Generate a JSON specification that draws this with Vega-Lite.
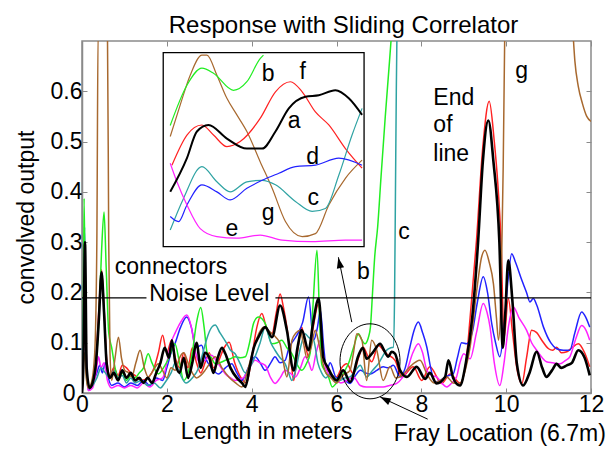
{
"$schema":"https://vega.github.io/schema/vega-lite/v6.json",
"width":509,"height":352,
"autosize":"none",
"padding":{"left":82,"top":41,"right":22,"bottom":56},
"background":"white",
"config":{"view":{"stroke":"#8a8a8a","strokeWidth":1.5},"font":"Liberation Sans"},
"title":{"text":"Response with Sliding Correlator","fontSize":24,"fontWeight":"normal","font":"Liberation Sans","color":"black","anchor":"middle","frame":"group","offset":3,"dx":7},
"resolve":{"axis":{"x":"independent","y":"independent"}},
"datasets":{
"main":[
{"s":"a","x":0,"y":0.0},{"s":"a","x":0.03,"y":0.05},{"s":"a","x":0.07,"y":0.30},{"s":"a","x":0.11,"y":0.05},{"s":"a","x":0.18,"y":0.01},{"s":"a","x":0.25,"y":0.02},{"s":"a","x":0.33,"y":0.06},{"s":"a","x":0.4,"y":0.15},{"s":"a","x":0.46,"y":0.24},{"s":"a","x":0.52,"y":0.16},{"s":"a","x":0.58,"y":0.06},{"s":"a","x":0.66,"y":0.03},{"s":"a","x":0.75,"y":0.04},{"s":"a","x":0.85,"y":0.025},{"s":"a","x":0.95,"y":0.045},{"s":"a","x":1.05,"y":0.03},{"s":"a","x":1.15,"y":0.04},{"s":"a","x":1.25,"y":0.025},{"s":"a","x":1.35,"y":0.03},{"s":"a","x":1.45,"y":0.02},{"s":"a","x":1.55,"y":0.03},{"s":"a","x":1.65,"y":0.02},{"s":"a","x":1.75,"y":0.04},{"s":"a","x":1.85,"y":0.06},{"s":"a","x":1.95,"y":0.09},{"s":"a","x":2.05,"y":0.07},{"s":"a","x":2.12,"y":0.105},{"s":"a","x":2.2,"y":0.06},{"s":"a","x":2.3,"y":0.04},{"s":"a","x":2.4,"y":0.07},{"s":"a","x":2.5,"y":0.03},{"s":"a","x":2.6,"y":0.06},{"s":"a","x":2.7,"y":0.1},{"s":"a","x":2.8,"y":0.05},{"s":"a","x":2.9,"y":0.08},{"s":"a","x":3.0,"y":0.07},{"s":"a","x":3.1,"y":0.04},{"s":"a","x":3.2,"y":0.07},{"s":"a","x":3.3,"y":0.09},{"s":"a","x":3.38,"y":0.078},{"s":"a","x":3.5,"y":0.05},{"s":"a","x":3.65,"y":0.03},{"s":"a","x":3.77,"y":0.02},{"s":"a","x":3.85,"y":0.012},{"s":"a","x":3.95,"y":0.05},{"s":"a","x":4.05,"y":0.09},{"s":"a","x":4.16,"y":0.111},{"s":"a","x":4.32,"y":0.131},{"s":"a","x":4.48,"y":0.111},{"s":"a","x":4.67,"y":0.174},{"s":"a","x":4.83,"y":0.125},{"s":"a","x":4.99,"y":0.045},{"s":"a","x":5.08,"y":0.09},{"s":"a","x":5.18,"y":0.125},{"s":"a","x":5.34,"y":0.085},{"s":"a","x":5.45,"y":0.14},{"s":"a","x":5.58,"y":0.188},{"s":"a","x":5.69,"y":0.07},{"s":"a","x":5.8,"y":0.05},{"s":"a","x":5.93,"y":0.03},{"s":"a","x":6.0,"y":0.025},{"s":"a","x":6.16,"y":0.045},{"s":"a","x":6.32,"y":0.022},{"s":"a","x":6.52,"y":0.075},{"s":"a","x":6.62,"y":0.09},{"s":"a","x":6.71,"y":0.068},{"s":"a","x":6.85,"y":0.08},{"s":"a","x":7.03,"y":0.098},{"s":"a","x":7.12,"y":0.085},{"s":"a","x":7.22,"y":0.072},{"s":"a","x":7.3,"y":0.082},{"s":"a","x":7.38,"y":0.078},{"s":"a","x":7.5,"y":0.045},{"s":"a","x":7.66,"y":0.032},{"s":"a","x":7.89,"y":0.052},{"s":"a","x":8.09,"y":0.028},{"s":"a","x":8.2,"y":0.04},{"s":"a","x":8.36,"y":0.019},{"s":"a","x":8.56,"y":0.032},{"s":"a","x":8.64,"y":0.065},{"s":"a","x":8.75,"y":0.03},{"s":"a","x":8.91,"y":0.015},{"s":"a","x":9.05,"y":0.06},{"s":"a","x":9.2,"y":0.15},{"s":"a","x":9.34,"y":0.303},{"s":"a","x":9.45,"y":0.46},{"s":"a","x":9.58,"y":0.542},{"s":"a","x":9.7,"y":0.46},{"s":"a","x":9.84,"y":0.3},{"s":"a","x":9.92,"y":0.09},{"s":"a","x":9.98,"y":0.16},{"s":"a","x":10.05,"y":0.264},{"s":"a","x":10.15,"y":0.18},{"s":"a","x":10.25,"y":0.06},{"s":"a","x":10.4,"y":0.015},{"s":"a","x":10.55,"y":0.04},{"s":"a","x":10.72,"y":0.082},{"s":"a","x":10.85,"y":0.05},{"s":"a","x":10.95,"y":0.032},{"s":"a","x":11.08,"y":0.045},{"s":"a","x":11.19,"y":0.058},{"s":"a","x":11.3,"y":0.05},{"s":"a","x":11.43,"y":0.055},{"s":"a","x":11.55,"y":0.06},{"s":"a","x":11.7,"y":0.085},{"s":"a","x":11.85,"y":0.07},{"s":"a","x":11.97,"y":0.035},
{"s":"f","x":0,"y":0.01},{"s":"f","x":0.03,"y":0.06},{"s":"f","x":0.07,"y":0.28},{"s":"f","x":0.11,"y":0.04},{"s":"f","x":0.18,"y":0.01},{"s":"f","x":0.25,"y":0.02},{"s":"f","x":0.33,"y":0.07},{"s":"f","x":0.4,"y":0.17},{"s":"f","x":0.46,"y":0.245},{"s":"f","x":0.52,"y":0.17},{"s":"f","x":0.58,"y":0.07},{"s":"f","x":0.66,"y":0.035},{"s":"f","x":0.75,"y":0.05},{"s":"f","x":0.85,"y":0.035},{"s":"f","x":0.95,"y":0.055},{"s":"f","x":1.05,"y":0.05},{"s":"f","x":1.15,"y":0.04},{"s":"f","x":1.25,"y":0.035},{"s":"f","x":1.4,"y":0.025},{"s":"f","x":1.55,"y":0.03},{"s":"f","x":1.7,"y":0.05},{"s":"f","x":1.8,"y":0.08},{"s":"f","x":1.9,"y":0.115},{"s":"f","x":2.0,"y":0.08},{"s":"f","x":2.11,"y":0.105},{"s":"f","x":2.2,"y":0.07},{"s":"f","x":2.3,"y":0.05},{"s":"f","x":2.4,"y":0.08},{"s":"f","x":2.5,"y":0.05},{"s":"f","x":2.6,"y":0.09},{"s":"f","x":2.7,"y":0.06},{"s":"f","x":2.8,"y":0.04},{"s":"f","x":2.9,"y":0.06},{"s":"f","x":3.0,"y":0.08},{"s":"f","x":3.1,"y":0.05},{"s":"f","x":3.2,"y":0.06},{"s":"f","x":3.35,"y":0.09},{"s":"f","x":3.47,"y":0.101},{"s":"f","x":3.6,"y":0.06},{"s":"f","x":3.75,"y":0.03},{"s":"f","x":3.88,"y":0.02},{"s":"f","x":4.0,"y":0.07},{"s":"f","x":4.12,"y":0.13},{"s":"f","x":4.24,"y":0.158},{"s":"f","x":4.35,"y":0.13},{"s":"f","x":4.48,"y":0.118},{"s":"f","x":4.58,"y":0.16},{"s":"f","x":4.67,"y":0.197},{"s":"f","x":4.75,"y":0.17},{"s":"f","x":4.83,"y":0.131},{"s":"f","x":4.92,"y":0.07},{"s":"f","x":4.99,"y":0.025},{"s":"f","x":5.08,"y":0.08},{"s":"f","x":5.18,"y":0.131},{"s":"f","x":5.26,"y":0.1},{"s":"f","x":5.34,"y":0.072},{"s":"f","x":5.45,"y":0.13},{"s":"f","x":5.58,"y":0.178},{"s":"f","x":5.66,"y":0.1},{"s":"f","x":5.73,"y":0.058},{"s":"f","x":5.85,"y":0.04},{"s":"f","x":6.0,"y":0.032},{"s":"f","x":6.12,"y":0.05},{"s":"f","x":6.24,"y":0.058},{"s":"f","x":6.4,"y":0.038},{"s":"f","x":6.52,"y":0.07},{"s":"f","x":6.63,"y":0.091},{"s":"f","x":6.73,"y":0.075},{"s":"f","x":6.83,"y":0.062},{"s":"f","x":6.99,"y":0.095},{"s":"f","x":7.1,"y":0.085},{"s":"f","x":7.18,"y":0.078},{"s":"f","x":7.38,"y":0.065},{"s":"f","x":7.54,"y":0.032},{"s":"f","x":7.81,"y":0.052},{"s":"f","x":8.01,"y":0.025},{"s":"f","x":8.2,"y":0.052},{"s":"f","x":8.48,"y":0.019},{"s":"f","x":8.68,"y":0.038},{"s":"f","x":8.91,"y":0.02},{"s":"f","x":9.05,"y":0.06},{"s":"f","x":9.15,"y":0.15},{"s":"f","x":9.3,"y":0.303},{"s":"f","x":9.45,"y":0.49},{"s":"f","x":9.6,"y":0.58},{"s":"f","x":9.72,"y":0.5},{"s":"f","x":9.8,"y":0.42},{"s":"f","x":9.88,"y":0.3},{"s":"f","x":9.95,"y":0.11},{"s":"f","x":10.05,"y":0.188},{"s":"f","x":10.15,"y":0.12},{"s":"f","x":10.25,"y":0.05},{"s":"f","x":10.37,"y":0.019},{"s":"f","x":10.48,"y":0.07},{"s":"f","x":10.6,"y":0.125},{"s":"f","x":10.72,"y":0.12},{"s":"f","x":10.84,"y":0.105},{"s":"f","x":11.0,"y":0.088},{"s":"f","x":11.1,"y":0.085},{"s":"f","x":11.19,"y":0.091},{"s":"f","x":11.3,"y":0.08},{"s":"f","x":11.43,"y":0.082},{"s":"f","x":11.55,"y":0.09},{"s":"f","x":11.7,"y":0.098},{"s":"f","x":11.85,"y":0.08},{"s":"f","x":11.97,"y":0.052},
{"s":"d","x":0,"y":0.0},{"s":"d","x":0.03,"y":0.08},{"s":"d","x":0.06,"y":0.33},{"s":"d","x":0.1,"y":0.08},{"s":"d","x":0.15,"y":0.005},{"s":"d","x":0.25,"y":0.02},{"s":"d","x":0.35,"y":0.04},{"s":"d","x":0.42,"y":0.055},{"s":"d","x":0.48,"y":0.04},{"s":"d","x":0.55,"y":0.06},{"s":"d","x":0.62,"y":0.03},{"s":"d","x":0.7,"y":0.015},{"s":"d","x":0.85,"y":0.02},{"s":"d","x":1.0,"y":0.012},{"s":"d","x":1.15,"y":0.02},{"s":"d","x":1.3,"y":0.015},{"s":"d","x":1.45,"y":0.025},{"s":"d","x":1.6,"y":0.015},{"s":"d","x":1.75,"y":0.03},{"s":"d","x":1.9,"y":0.025},{"s":"d","x":2.0,"y":0.05},{"s":"d","x":2.1,"y":0.08},{"s":"d","x":2.2,"y":0.1},{"s":"d","x":2.32,"y":0.13},{"s":"d","x":2.47,"y":0.151},{"s":"d","x":2.58,"y":0.13},{"s":"d","x":2.68,"y":0.09},{"s":"d","x":2.82,"y":0.095},{"s":"d","x":2.9,"y":0.072},{"s":"d","x":3.05,"y":0.05},{"s":"d","x":3.22,"y":0.038},{"s":"d","x":3.38,"y":0.05},{"s":"d","x":3.53,"y":0.058},{"s":"d","x":3.65,"y":0.04},{"s":"d","x":3.77,"y":0.025},{"s":"d","x":3.92,"y":0.05},{"s":"d","x":4.08,"y":0.072},{"s":"d","x":4.2,"y":0.06},{"s":"d","x":4.32,"y":0.045},{"s":"d","x":4.45,"y":0.06},{"s":"d","x":4.55,"y":0.072},{"s":"d","x":4.67,"y":0.06},{"s":"d","x":4.79,"y":0.065},{"s":"d","x":4.88,"y":0.09},{"s":"d","x":4.99,"y":0.105},{"s":"d","x":5.1,"y":0.12},{"s":"d","x":5.2,"y":0.14},{"s":"d","x":5.34,"y":0.191},{"s":"d","x":5.46,"y":0.105},{"s":"d","x":5.55,"y":0.13},{"s":"d","x":5.62,"y":0.164},{"s":"d","x":5.7,"y":0.09},{"s":"d","x":5.77,"y":0.045},{"s":"d","x":5.85,"y":0.06},{"s":"d","x":6.0,"y":0.03},{"s":"d","x":6.08,"y":0.032},{"s":"d","x":6.2,"y":0.025},{"s":"d","x":6.32,"y":0.019},{"s":"d","x":6.45,"y":0.035},{"s":"d","x":6.56,"y":0.045},{"s":"d","x":6.68,"y":0.04},{"s":"d","x":6.79,"y":0.038},{"s":"d","x":6.95,"y":0.045},{"s":"d","x":7.1,"y":0.052},{"s":"d","x":7.22,"y":0.05},{"s":"d","x":7.34,"y":0.055},{"s":"d","x":7.5,"y":0.032},{"s":"d","x":7.62,"y":0.05},{"s":"d","x":7.73,"y":0.091},{"s":"d","x":7.83,"y":0.125},{"s":"d","x":7.93,"y":0.141},{"s":"d","x":8.03,"y":0.12},{"s":"d","x":8.13,"y":0.091},{"s":"d","x":8.22,"y":0.05},{"s":"d","x":8.32,"y":0.022},{"s":"d","x":8.45,"y":0.025},{"s":"d","x":8.56,"y":0.032},{"s":"d","x":8.75,"y":0.038},{"s":"d","x":8.85,"y":0.07},{"s":"d","x":8.95,"y":0.1},{"s":"d","x":9.07,"y":0.098},{"s":"d","x":9.2,"y":0.12},{"s":"d","x":9.32,"y":0.18},{"s":"d","x":9.46,"y":0.231},{"s":"d","x":9.56,"y":0.2},{"s":"d","x":9.66,"y":0.138},{"s":"d","x":9.75,"y":0.1},{"s":"d","x":9.85,"y":0.072},{"s":"d","x":9.95,"y":0.13},{"s":"d","x":10.05,"y":0.23},{"s":"d","x":10.13,"y":0.277},{"s":"d","x":10.22,"y":0.26},{"s":"d","x":10.37,"y":0.224},{"s":"d","x":10.48,"y":0.2},{"s":"d","x":10.56,"y":0.181},{"s":"d","x":10.64,"y":0.188},{"s":"d","x":10.72,"y":0.175},{"s":"d","x":10.88,"y":0.131},{"s":"d","x":11.05,"y":0.1},{"s":"d","x":11.19,"y":0.088},{"s":"d","x":11.35,"y":0.085},{"s":"d","x":11.5,"y":0.085},{"s":"d","x":11.62,"y":0.12},{"s":"d","x":11.78,"y":0.161},{"s":"d","x":11.88,"y":0.15},{"s":"d","x":11.97,"y":0.131},
{"s":"e","x":0,"y":0.0},{"s":"e","x":0.03,"y":0.06},{"s":"e","x":0.06,"y":0.25},{"s":"e","x":0.1,"y":0.05},{"s":"e","x":0.15,"y":0.005},{"s":"e","x":0.25,"y":0.01},{"s":"e","x":0.33,"y":0.04},{"s":"e","x":0.39,"y":0.072},{"s":"e","x":0.45,"y":0.05},{"s":"e","x":0.52,"y":0.06},{"s":"e","x":0.6,"y":0.025},{"s":"e","x":0.7,"y":0.01},{"s":"e","x":0.85,"y":0.015},{"s":"e","x":1.0,"y":0.01},{"s":"e","x":1.15,"y":0.015},{"s":"e","x":1.3,"y":0.01},{"s":"e","x":1.45,"y":0.02},{"s":"e","x":1.6,"y":0.012},{"s":"e","x":1.75,"y":0.025},{"s":"e","x":1.9,"y":0.03},{"s":"e","x":2.0,"y":0.06},{"s":"e","x":2.1,"y":0.1},{"s":"e","x":2.2,"y":0.12},{"s":"e","x":2.32,"y":0.14},{"s":"e","x":2.47,"y":0.155},{"s":"e","x":2.58,"y":0.13},{"s":"e","x":2.68,"y":0.08},{"s":"e","x":2.78,"y":0.06},{"s":"e","x":2.9,"y":0.065},{"s":"e","x":3.05,"y":0.075},{"s":"e","x":3.2,"y":0.06},{"s":"e","x":3.38,"y":0.038},{"s":"e","x":3.5,"y":0.03},{"s":"e","x":3.61,"y":0.025},{"s":"e","x":3.8,"y":0.03},{"s":"e","x":3.95,"y":0.05},{"s":"e","x":4.08,"y":0.065},{"s":"e","x":4.2,"y":0.06},{"s":"e","x":4.32,"y":0.055},{"s":"e","x":4.45,"y":0.03},{"s":"e","x":4.55,"y":0.019},{"s":"e","x":4.67,"y":0.03},{"s":"e","x":4.79,"y":0.045},{"s":"e","x":4.9,"y":0.04},{"s":"e","x":5.03,"y":0.032},{"s":"e","x":5.15,"y":0.05},{"s":"e","x":5.26,"y":0.072},{"s":"e","x":5.35,"y":0.06},{"s":"e","x":5.42,"y":0.045},{"s":"e","x":5.52,"y":0.08},{"s":"e","x":5.62,"y":0.105},{"s":"e","x":5.72,"y":0.06},{"s":"e","x":5.81,"y":0.038},{"s":"e","x":5.95,"y":0.03},{"s":"e","x":6.1,"y":0.02},{"s":"e","x":6.25,"y":0.025},{"s":"e","x":6.4,"y":0.032},{"s":"e","x":6.56,"y":0.015},{"s":"e","x":6.7,"y":0.012},{"s":"e","x":6.87,"y":0.012},{"s":"e","x":7.1,"y":0.012},{"s":"e","x":7.25,"y":0.015},{"s":"e","x":7.42,"y":0.019},{"s":"e","x":7.55,"y":0.03},{"s":"e","x":7.66,"y":0.045},{"s":"e","x":7.8,"y":0.08},{"s":"e","x":7.93,"y":0.098},{"s":"e","x":8.03,"y":0.08},{"s":"e","x":8.13,"y":0.045},{"s":"e","x":8.25,"y":0.035},{"s":"e","x":8.36,"y":0.032},{"s":"e","x":8.48,"y":0.02},{"s":"e","x":8.6,"y":0.012},{"s":"e","x":8.72,"y":0.02},{"s":"e","x":8.83,"y":0.032},{"s":"e","x":8.91,"y":0.06},{"s":"e","x":9.0,"y":0.078},{"s":"e","x":9.15,"y":0.068},{"s":"e","x":9.3,"y":0.12},{"s":"e","x":9.46,"y":0.178},{"s":"e","x":9.55,"y":0.16},{"s":"e","x":9.62,"y":0.131},{"s":"e","x":9.72,"y":0.06},{"s":"e","x":9.85,"y":0.015},{"s":"e","x":9.95,"y":0.06},{"s":"e","x":10.05,"y":0.13},{"s":"e","x":10.17,"y":0.171},{"s":"e","x":10.3,"y":0.15},{"s":"e","x":10.48,"y":0.125},{"s":"e","x":10.6,"y":0.1},{"s":"e","x":10.72,"y":0.085},{"s":"e","x":10.85,"y":0.07},{"s":"e","x":10.95,"y":0.062},{"s":"e","x":11.1,"y":0.06},{"s":"e","x":11.27,"y":0.058},{"s":"e","x":11.4,"y":0.065},{"s":"e","x":11.5,"y":0.072},{"s":"e","x":11.65,"y":0.11},{"s":"e","x":11.78,"y":0.134},{"s":"e","x":11.88,"y":0.125},{"s":"e","x":11.97,"y":0.105},
{"s":"b","x":0,"y":0.005},{"s":"b","x":0.025,"y":0.08},{"s":"b","x":0.05,"y":0.387},{"s":"b","x":0.08,"y":0.15},{"s":"b","x":0.12,"y":0.02},{"s":"b","x":0.18,"y":0.01},{"s":"b","x":0.26,"y":0.03},{"s":"b","x":0.33,"y":0.06},{"s":"b","x":0.4,"y":0.15},{"s":"b","x":0.46,"y":0.28},{"s":"b","x":0.52,"y":0.36},{"s":"b","x":0.57,"y":0.25},{"s":"b","x":0.63,"y":0.12},{"s":"b","x":0.7,"y":0.09},{"s":"b","x":0.78,"y":0.05},{"s":"b","x":0.86,"y":0.03},{"s":"b","x":0.95,"y":0.04},{"s":"b","x":1.05,"y":0.025},{"s":"b","x":1.15,"y":0.035},{"s":"b","x":1.25,"y":0.03},{"s":"b","x":1.35,"y":0.04},{"s":"b","x":1.45,"y":0.05},{"s":"b","x":1.56,"y":0.078},{"s":"b","x":1.65,"y":0.06},{"s":"b","x":1.8,"y":0.038},{"s":"b","x":1.92,"y":0.05},{"s":"b","x":2.05,"y":0.07},{"s":"b","x":2.19,"y":0.098},{"s":"b","x":2.3,"y":0.06},{"s":"b","x":2.4,"y":0.025},{"s":"b","x":2.5,"y":0.04},{"s":"b","x":2.6,"y":0.08},{"s":"b","x":2.7,"y":0.14},{"s":"b","x":2.8,"y":0.17},{"s":"b","x":2.88,"y":0.13},{"s":"b","x":2.95,"y":0.08},{"s":"b","x":3.05,"y":0.07},{"s":"b","x":3.14,"y":0.058},{"s":"b","x":3.25,"y":0.06},{"s":"b","x":3.38,"y":0.065},{"s":"b","x":3.5,"y":0.068},{"s":"b","x":3.61,"y":0.072},{"s":"b","x":3.73,"y":0.07},{"s":"b","x":3.85,"y":0.072},{"s":"b","x":3.95,"y":0.1},{"s":"b","x":4.05,"y":0.14},{"s":"b","x":4.16,"y":0.151},{"s":"b","x":4.32,"y":0.138},{"s":"b","x":4.48,"y":0.098},{"s":"b","x":4.6,"y":0.1},{"s":"b","x":4.71,"y":0.105},{"s":"b","x":4.83,"y":0.09},{"s":"b","x":4.95,"y":0.078},{"s":"b","x":5.05,"y":0.06},{"s":"b","x":5.18,"y":0.045},{"s":"b","x":5.3,"y":0.06},{"s":"b","x":5.38,"y":0.08},{"s":"b","x":5.45,"y":0.18},{"s":"b","x":5.54,"y":0.284},{"s":"b","x":5.6,"y":0.15},{"s":"b","x":5.65,"y":0.058},{"s":"b","x":5.72,"y":0.045},{"s":"b","x":5.81,"y":0.032},{"s":"b","x":5.9,"y":0.012},{"s":"b","x":6.0,"y":0.02},{"s":"b","x":6.1,"y":0.03},{"s":"b","x":6.2,"y":0.045},{"s":"b","x":6.28,"y":0.058},{"s":"b","x":6.4,"y":0.09},{"s":"b","x":6.52,"y":0.118},{"s":"b","x":6.6,"y":0.105},{"s":"b","x":6.67,"y":0.098},{"s":"b","x":6.75,"y":0.11},{"s":"b","x":6.8,"y":0.131},{"s":"b","x":6.85,"y":0.2},{"s":"b","x":6.9,"y":0.27},{"s":"b","x":6.97,"y":0.33},{"s":"b","x":7.05,"y":0.43},{"s":"b","x":7.15,"y":0.55},{"s":"b","x":7.25,"y":0.66},{"s":"b","x":7.32,"y":0.74},
{"s":"c","x":0,"y":0.01},{"s":"c","x":0.03,"y":0.1},{"s":"c","x":0.06,"y":0.3},{"s":"c","x":0.1,"y":0.06},{"s":"c","x":0.15,"y":0.01},{"s":"c","x":0.25,"y":0.015},{"s":"c","x":0.35,"y":0.03},{"s":"c","x":0.45,"y":0.05},{"s":"c","x":0.55,"y":0.04},{"s":"c","x":0.65,"y":0.03},{"s":"c","x":0.75,"y":0.045},{"s":"c","x":0.85,"y":0.03},{"s":"c","x":0.95,"y":0.035},{"s":"c","x":1.05,"y":0.02},{"s":"c","x":1.15,"y":0.03},{"s":"c","x":1.25,"y":0.02},{"s":"c","x":1.4,"y":0.025},{"s":"c","x":1.55,"y":0.015},{"s":"c","x":1.7,"y":0.02},{"s":"c","x":1.85,"y":0.01},{"s":"c","x":1.95,"y":0.02},{"s":"c","x":2.1,"y":0.04},{"s":"c","x":2.2,"y":0.06},{"s":"c","x":2.3,"y":0.04},{"s":"c","x":2.45,"y":0.02},{"s":"c","x":2.6,"y":0.03},{"s":"c","x":2.75,"y":0.05},{"s":"c","x":2.85,"y":0.08},{"s":"c","x":2.95,"y":0.11},{"s":"c","x":3.06,"y":0.131},{"s":"c","x":3.14,"y":0.135},{"s":"c","x":3.25,"y":0.12},{"s":"c","x":3.4,"y":0.1},{"s":"c","x":3.5,"y":0.085},{"s":"c","x":3.61,"y":0.078},{"s":"c","x":3.72,"y":0.06},{"s":"c","x":3.85,"y":0.04},{"s":"c","x":3.95,"y":0.05},{"s":"c","x":4.08,"y":0.072},{"s":"c","x":4.2,"y":0.1},{"s":"c","x":4.32,"y":0.131},{"s":"c","x":4.45,"y":0.1},{"s":"c","x":4.55,"y":0.085},{"s":"c","x":4.67,"y":0.07},{"s":"c","x":4.79,"y":0.058},{"s":"c","x":4.87,"y":0.04},{"s":"c","x":4.95,"y":0.025},{"s":"c","x":5.05,"y":0.05},{"s":"c","x":5.15,"y":0.09},{"s":"c","x":5.26,"y":0.118},{"s":"c","x":5.35,"y":0.11},{"s":"c","x":5.46,"y":0.105},{"s":"c","x":5.56,"y":0.06},{"s":"c","x":5.65,"y":0.04},{"s":"c","x":5.75,"y":0.03},{"s":"c","x":5.85,"y":0.038},{"s":"c","x":5.96,"y":0.03},{"s":"c","x":6.08,"y":0.025},{"s":"c","x":6.2,"y":0.03},{"s":"c","x":6.32,"y":0.032},{"s":"c","x":6.45,"y":0.045},{"s":"c","x":6.56,"y":0.055},{"s":"c","x":6.65,"y":0.04},{"s":"c","x":6.71,"y":0.032},{"s":"c","x":6.85,"y":0.045},{"s":"c","x":7.0,"y":0.06},{"s":"c","x":7.1,"y":0.075},{"s":"c","x":7.18,"y":0.085},{"s":"c","x":7.28,"y":0.09},{"s":"c","x":7.34,"y":0.091},{"s":"c","x":7.37,"y":0.2},{"s":"c","x":7.39,"y":0.4},{"s":"c","x":7.41,"y":0.6},{"s":"c","x":7.43,"y":0.75},
{"s":"g","x":0,"y":0.01},{"s":"g","x":0.03,"y":0.058},{"s":"g","x":0.06,"y":0.08},{"s":"g","x":0.1,"y":0.03},{"s":"g","x":0.15,"y":0.01},{"s":"g","x":0.22,"y":0.02},{"s":"g","x":0.3,"y":0.08},{"s":"g","x":0.35,"y":0.3},{"s":"g","x":0.38,"y":0.72},{"s":"g","x":0.6,"y":0.72},{"s":"g","x":0.63,"y":0.3},{"s":"g","x":0.66,"y":0.08},{"s":"g","x":0.7,"y":0.025},{"s":"g","x":0.78,"y":0.07},{"s":"g","x":0.86,"y":0.111},{"s":"g","x":0.93,"y":0.07},{"s":"g","x":1.01,"y":0.045},{"s":"g","x":1.1,"y":0.04},{"s":"g","x":1.17,"y":0.032},{"s":"g","x":1.27,"y":0.06},{"s":"g","x":1.37,"y":0.085},{"s":"g","x":1.47,"y":0.05},{"s":"g","x":1.56,"y":0.032},{"s":"g","x":1.68,"y":0.045},{"s":"g","x":1.8,"y":0.058},{"s":"g","x":1.9,"y":0.045},{"s":"g","x":2.0,"y":0.03},{"s":"g","x":2.1,"y":0.05},{"s":"g","x":2.2,"y":0.045},{"s":"g","x":2.3,"y":0.07},{"s":"g","x":2.4,"y":0.08},{"s":"g","x":2.5,"y":0.06},{"s":"g","x":2.6,"y":0.04},{"s":"g","x":2.7,"y":0.03},{"s":"g","x":2.8,"y":0.035},{"s":"g","x":2.9,"y":0.045},{"s":"g","x":3.02,"y":0.06},{"s":"g","x":3.14,"y":0.072},{"s":"g","x":3.3,"y":0.05},{"s":"g","x":3.46,"y":0.032},{"s":"g","x":3.62,"y":0.02},{"s":"g","x":3.77,"y":0.012},{"s":"g","x":3.92,"y":0.05},{"s":"g","x":4.08,"y":0.098},{"s":"g","x":4.18,"y":0.12},{"s":"g","x":4.28,"y":0.131},{"s":"g","x":4.38,"y":0.125},{"s":"g","x":4.48,"y":0.118},{"s":"g","x":4.58,"y":0.11},{"s":"g","x":4.67,"y":0.098},{"s":"g","x":4.75,"y":0.06},{"s":"g","x":4.83,"y":0.032},{"s":"g","x":4.9,"y":0.07},{"s":"g","x":4.95,"y":0.105},{"s":"g","x":5.05,"y":0.12},{"s":"g","x":5.14,"y":0.125},{"s":"g","x":5.22,"y":0.1},{"s":"g","x":5.3,"y":0.07},{"s":"g","x":5.4,"y":0.09},{"s":"g","x":5.5,"y":0.125},{"s":"g","x":5.58,"y":0.1},{"s":"g","x":5.65,"y":0.07},{"s":"g","x":5.75,"y":0.04},{"s":"g","x":5.85,"y":0.032},{"s":"g","x":6.0,"y":0.02},{"s":"g","x":6.15,"y":0.035},{"s":"g","x":6.32,"y":0.045},{"s":"g","x":6.4,"y":0.08},{"s":"g","x":6.48,"y":0.118},{"s":"g","x":6.6,"y":0.105},{"s":"g","x":6.71,"y":0.025},{"s":"g","x":6.83,"y":0.105},{"s":"g","x":6.95,"y":0.085},{"s":"g","x":7.1,"y":0.025},{"s":"g","x":7.26,"y":0.052},{"s":"g","x":7.4,"y":0.03},{"s":"g","x":7.55,"y":0.035},{"s":"g","x":7.73,"y":0.052},{"s":"g","x":7.97,"y":0.065},{"s":"g","x":8.13,"y":0.038},{"s":"g","x":8.3,"y":0.02},{"s":"g","x":8.45,"y":0.025},{"s":"g","x":8.6,"y":0.032},{"s":"g","x":8.75,"y":0.02},{"s":"g","x":8.91,"y":0.019},{"s":"g","x":9.05,"y":0.05},{"s":"g","x":9.15,"y":0.091},{"s":"g","x":9.3,"y":0.2},{"s":"g","x":9.42,"y":0.27},{"s":"g","x":9.5,"y":0.284},{"s":"g","x":9.6,"y":0.26},{"s":"g","x":9.7,"y":0.217},{"s":"g","x":9.77,"y":0.15},{"s":"g","x":9.82,"y":0.105},{"s":"g","x":9.88,"y":0.2},{"s":"g","x":9.93,"y":0.45},{"s":"g","x":9.97,"y":0.74},
{"s":"g2","x":11.56,"y":0.74},{"s":"g2","x":11.62,"y":0.66},{"s":"g2","x":11.7,"y":0.61},{"s":"g2","x":11.8,"y":0.575},{"s":"g2","x":11.9,"y":0.55},{"s":"g2","x":12,"y":0.54}
],
"inset":[
{"s":"g","x":2.08,"y":0.51},{"s":"g","x":2.316,"y":0.573},{"s":"g","x":2.551,"y":0.632},{"s":"g","x":2.827,"y":0.672},{"s":"g","x":2.945,"y":0.672},{"s":"g","x":3.18,"y":0.632},{"s":"g","x":3.416,"y":0.586},{"s":"g","x":3.651,"y":0.553},{"s":"g","x":3.887,"y":0.52},{"s":"g","x":4.2,"y":0.46},{"s":"g","x":4.483,"y":0.407},{"s":"g","x":4.796,"y":0.341},{"s":"g","x":5.19,"y":0.311},{"s":"g","x":5.503,"y":0.317},{"s":"g","x":5.819,"y":0.374},{"s":"g","x":6.21,"y":0.427},{"s":"g","x":6.603,"y":0.463},
{"s":"b","x":2.08,"y":0.532},{"s":"b","x":2.474,"y":0.612},{"s":"b","x":2.827,"y":0.646},{"s":"b","x":3.1,"y":0.636},{"s":"b","x":3.571,"y":0.602},{"s":"b","x":3.887,"y":0.619},{"s":"b","x":4.2,"y":0.665},{"s":"b","x":4.278,"y":0.672},
{"s":"f","x":2.12,"y":0.453},{"s":"f","x":2.474,"y":0.513},{"s":"f","x":2.827,"y":0.533},{"s":"f","x":3.1,"y":0.513},{"s":"f","x":3.416,"y":0.49},{"s":"f","x":3.729,"y":0.5},{"s":"f","x":4.2,"y":0.546},{"s":"f","x":4.561,"y":0.599},{"s":"f","x":4.914,"y":0.619},{"s":"f","x":5.19,"y":0.599},{"s":"f","x":5.503,"y":0.559},{"s":"f","x":5.819,"y":0.533},{"s":"f","x":6.21,"y":0.486},{"s":"f","x":6.603,"y":0.447},
{"s":"a","x":2.08,"y":0.4},{"s":"a","x":2.474,"y":0.467},{"s":"a","x":2.709,"y":0.52},{"s":"a","x":2.982,"y":0.533},{"s":"a","x":3.416,"y":0.506},{"s":"a","x":3.887,"y":0.486},{"s":"a","x":4.247,"y":0.486},{"s":"a","x":4.561,"y":0.52},{"s":"a","x":4.876,"y":0.566},{"s":"a","x":5.267,"y":0.589},{"s":"a","x":5.583,"y":0.592},{"s":"a","x":5.974,"y":0.602},{"s":"a","x":6.29,"y":0.586},{"s":"a","x":6.603,"y":0.553},
{"s":"c","x":2.08,"y":0.324},{"s":"c","x":2.393,"y":0.387},{"s":"c","x":2.827,"y":0.45},{"s":"c","x":3.18,"y":0.42},{"s":"c","x":3.494,"y":0.4},{"s":"c","x":3.887,"y":0.42},{"s":"c","x":4.247,"y":0.423},{"s":"c","x":4.561,"y":0.414},{"s":"c","x":5.032,"y":0.381},{"s":"c","x":5.425,"y":0.361},{"s":"c","x":5.739,"y":0.367},{"s":"c","x":6.054,"y":0.433},{"s":"c","x":6.367,"y":0.513},{"s":"c","x":6.603,"y":0.566},
{"s":"d","x":2.08,"y":0.351},{"s":"d","x":2.276,"y":0.341},{"s":"d","x":2.474,"y":0.374},{"s":"d","x":2.827,"y":0.414},{"s":"d","x":3.18,"y":0.4},{"s":"d","x":3.494,"y":0.384},{"s":"d","x":3.887,"y":0.407},{"s":"d","x":4.247,"y":0.423},{"s":"d","x":4.641,"y":0.437},{"s":"d","x":5.032,"y":0.45},{"s":"d","x":5.503,"y":0.453},{"s":"d","x":6.054,"y":0.467},{"s":"d","x":6.603,"y":0.453},
{"s":"e","x":2.08,"y":0.457},{"s":"e","x":2.238,"y":0.42},{"s":"e","x":2.474,"y":0.374},{"s":"e","x":2.787,"y":0.327},{"s":"e","x":3.18,"y":0.311},{"s":"e","x":3.651,"y":0.308},{"s":"e","x":4.2,"y":0.314},{"s":"e","x":4.718,"y":0.304},{"s":"e","x":5.425,"y":0.301},{"s":"e","x":6.21,"y":0.304},{"s":"e","x":6.603,"y":0.304}
],
"box":[{"x":1.915,"x2":6.65,"y":0.291,"y2":0.677}],
"noise":[{"x":0,"x2":1.52,"y":0.189},{"x":4.56,"x2":12,"y":0.189}],
"arrows":[{"x":6.36,"y":0.141,"x2":6.045,"y2":0.27},{"x":8.15,"y":-0.052,"x2":7.03,"y2":-0.008}],
"head1":[{"x":6.068,"y":0.259}],
"head2":[{"x":7.144,"y":-0.0127}],
"circle":[{"x":6.79,"y":0.063}],
"labels":[{"t":"connectors","x":2.1,"y":0.2505},{"t":"Noise Level","x":3.0,"y":0.196},{"t":"g","x":10.365,"y":0.641},{"t":"c","x":7.59,"y":0.32},{"t":"b","x":6.634,"y":0.2405},{"t":"Fray Location (6.7m)","x":9.85,"y":-0.081},{"t":"b","x":4.389,"y":0.635},{"t":"f","x":5.202,"y":0.639},{"t":"a","x":4.999,"y":0.54},{"t":"d","x":5.437,"y":0.469},{"t":"c","x":5.449,"y":0.387},{"t":"g","x":4.389,"y":0.357},{"t":"e","x":3.534,"y":0.327}],
"eol":[{"t":"End","x":8.283,"y":0.587},{"t":"of","x":8.283,"y":0.532},{"t":"line","x":8.283,"y":0.476}]
},
"encoding":{
"x":{"field":"x","type":"quantitative","scale":{"domain":[0,12],"nice":false,"zero":false},"axis":null},
"y":{"field":"y","type":"quantitative","scale":{"domain":[0,0.7],"nice":false,"zero":false},"axis":null}
},
"layer":[
{"data":{"name":"main"},"transform":[{"filter":"datum.s != 'a'"}],"mark":{"type":"line","strokeWidth":1.5,"clip":true,"interpolate":"monotone"},
"encoding":{
"x":{"field":"x","type":"quantitative","scale":{"domain":[0,12],"nice":false,"zero":false},
"axis":{"values":[0,2,4,6,8,10,12],"format":"d","title":"Length in meters","titleFontSize":23,"titleFontWeight":"normal","titleColor":"black","titleX":184,"titleY":45,"titleBaseline":"alphabetic","labelFontSize":23,"labelColor":"black","labelPadding":5,"labelFlush":false,"tickSize":-5,"tickColor":"#8a8a8a","domainColor":"#8a8a8a","domainWidth":1.5,"grid":false,"labelFont":"Liberation Sans","titleFont":"Liberation Sans"}},
"y":{"field":"y","type":"quantitative","scale":{"domain":[0,0.7],"nice":false,"zero":false},
"axis":{"values":[0,0.1,0.2,0.3,0.4,0.5,0.6],"format":"~g","title":"convolved output","titleFontSize":23,"titleFontWeight":"normal","titleColor":"black","titleX":-56,"titleY":176,"titleAngle":-90,"titleAlign":"center","titleBaseline":"middle","labelFontSize":23,"labelColor":"black","labelPadding":{"condition":{"test":"datum.value == 0","value":12},"value":5},"tickSize":-5,"tickColor":"#8a8a8a","domainColor":"#8a8a8a","domainWidth":1.5,"grid":false,"labelFont":"Liberation Sans","titleFont":"Liberation Sans"}},
"color":{"field":"s","type":"nominal","legend":null,"scale":{"domain":["a","b","c","d","e","f","g","g2"],"range":["#000000","#22ee22","#2fa3a3","#2222ff","#ff22ff","#ff2222","#a8692f","#a8692f"]}}}},
{"data":{"name":"main"},"transform":[{"filter":"datum.s == 'a'"}],"mark":{"type":"line","strokeWidth":2.6,"clip":true,"interpolate":"monotone","color":"#000000"}},
{"data":{"name":"noise"},"mark":{"type":"rule","color":"#000000","strokeWidth":1.2},"encoding":{"x2":{"field":"x2"},
"x":{"field":"x","type":"quantitative","axis":{"orient":"top","values":[0,2,4,6,8,10,12],"labels":false,"title":null,"tickSize":-5,"tickColor":"#8a8a8a","domain":false,"grid":false}},
"y":{"field":"y","type":"quantitative","axis":{"orient":"right","values":[0,0.1,0.2,0.3,0.4,0.5,0.6],"labels":false,"title":null,"tickSize":-5,"tickColor":"#8a8a8a","domain":false,"grid":false}}}},
{"data":{"name":"box"},"mark":{"type":"rect","fill":"white","stroke":"#000000","strokeWidth":1.3},"encoding":{"x2":{"field":"x2"},"y2":{"field":"y2"}}},
{"data":{"name":"inset"},"transform":[{"filter":"datum.s != 'a'"}],"mark":{"type":"line","strokeWidth":1.2,"interpolate":"monotone"},
"encoding":{"color":{"field":"s","type":"nominal","legend":null}}},
{"data":{"name":"inset"},"transform":[{"filter":"datum.s == 'a'"}],"mark":{"type":"line","strokeWidth":2,"interpolate":"monotone","color":"#000000"}},
{"data":{"name":"arrows"},"mark":{"type":"rule","color":"#000000","strokeWidth":1,"clip":false},"encoding":{"x2":{"field":"x2"},"y2":{"field":"y2"}}},
{"data":{"name":"head1"},"mark":{"type":"point","shape":"M0,-1L0.7,1L-0.7,1Z","filled":true,"color":"#000000","size":110,"angle":348,"opacity":1}},
{"data":{"name":"head2"},"mark":{"type":"point","shape":"M0,-1L0.7,1L-0.7,1Z","filled":true,"color":"#000000","size":110,"angle":296,"opacity":1}},
{"data":{"name":"circle"},"mark":{"type":"point","shape":"M-0.8,0A0.8,1 0 1,1 0.8,0A0.8,1 0 1,1 -0.8,0Z","filled":false,"color":"#000000","strokeWidth":1,"size":5625,"opacity":1}},
{"data":{"name":"labels"},"mark":{"type":"text","fontSize":23,"font":"Liberation Sans","align":"center","baseline":"middle","color":"#000000"},"encoding":{"text":{"field":"t"}}},
{"data":{"name":"eol"},"mark":{"type":"text","fontSize":23,"font":"Liberation Sans","align":"left","baseline":"middle","color":"#000000"},"encoding":{"text":{"field":"t"}}}
]
}
